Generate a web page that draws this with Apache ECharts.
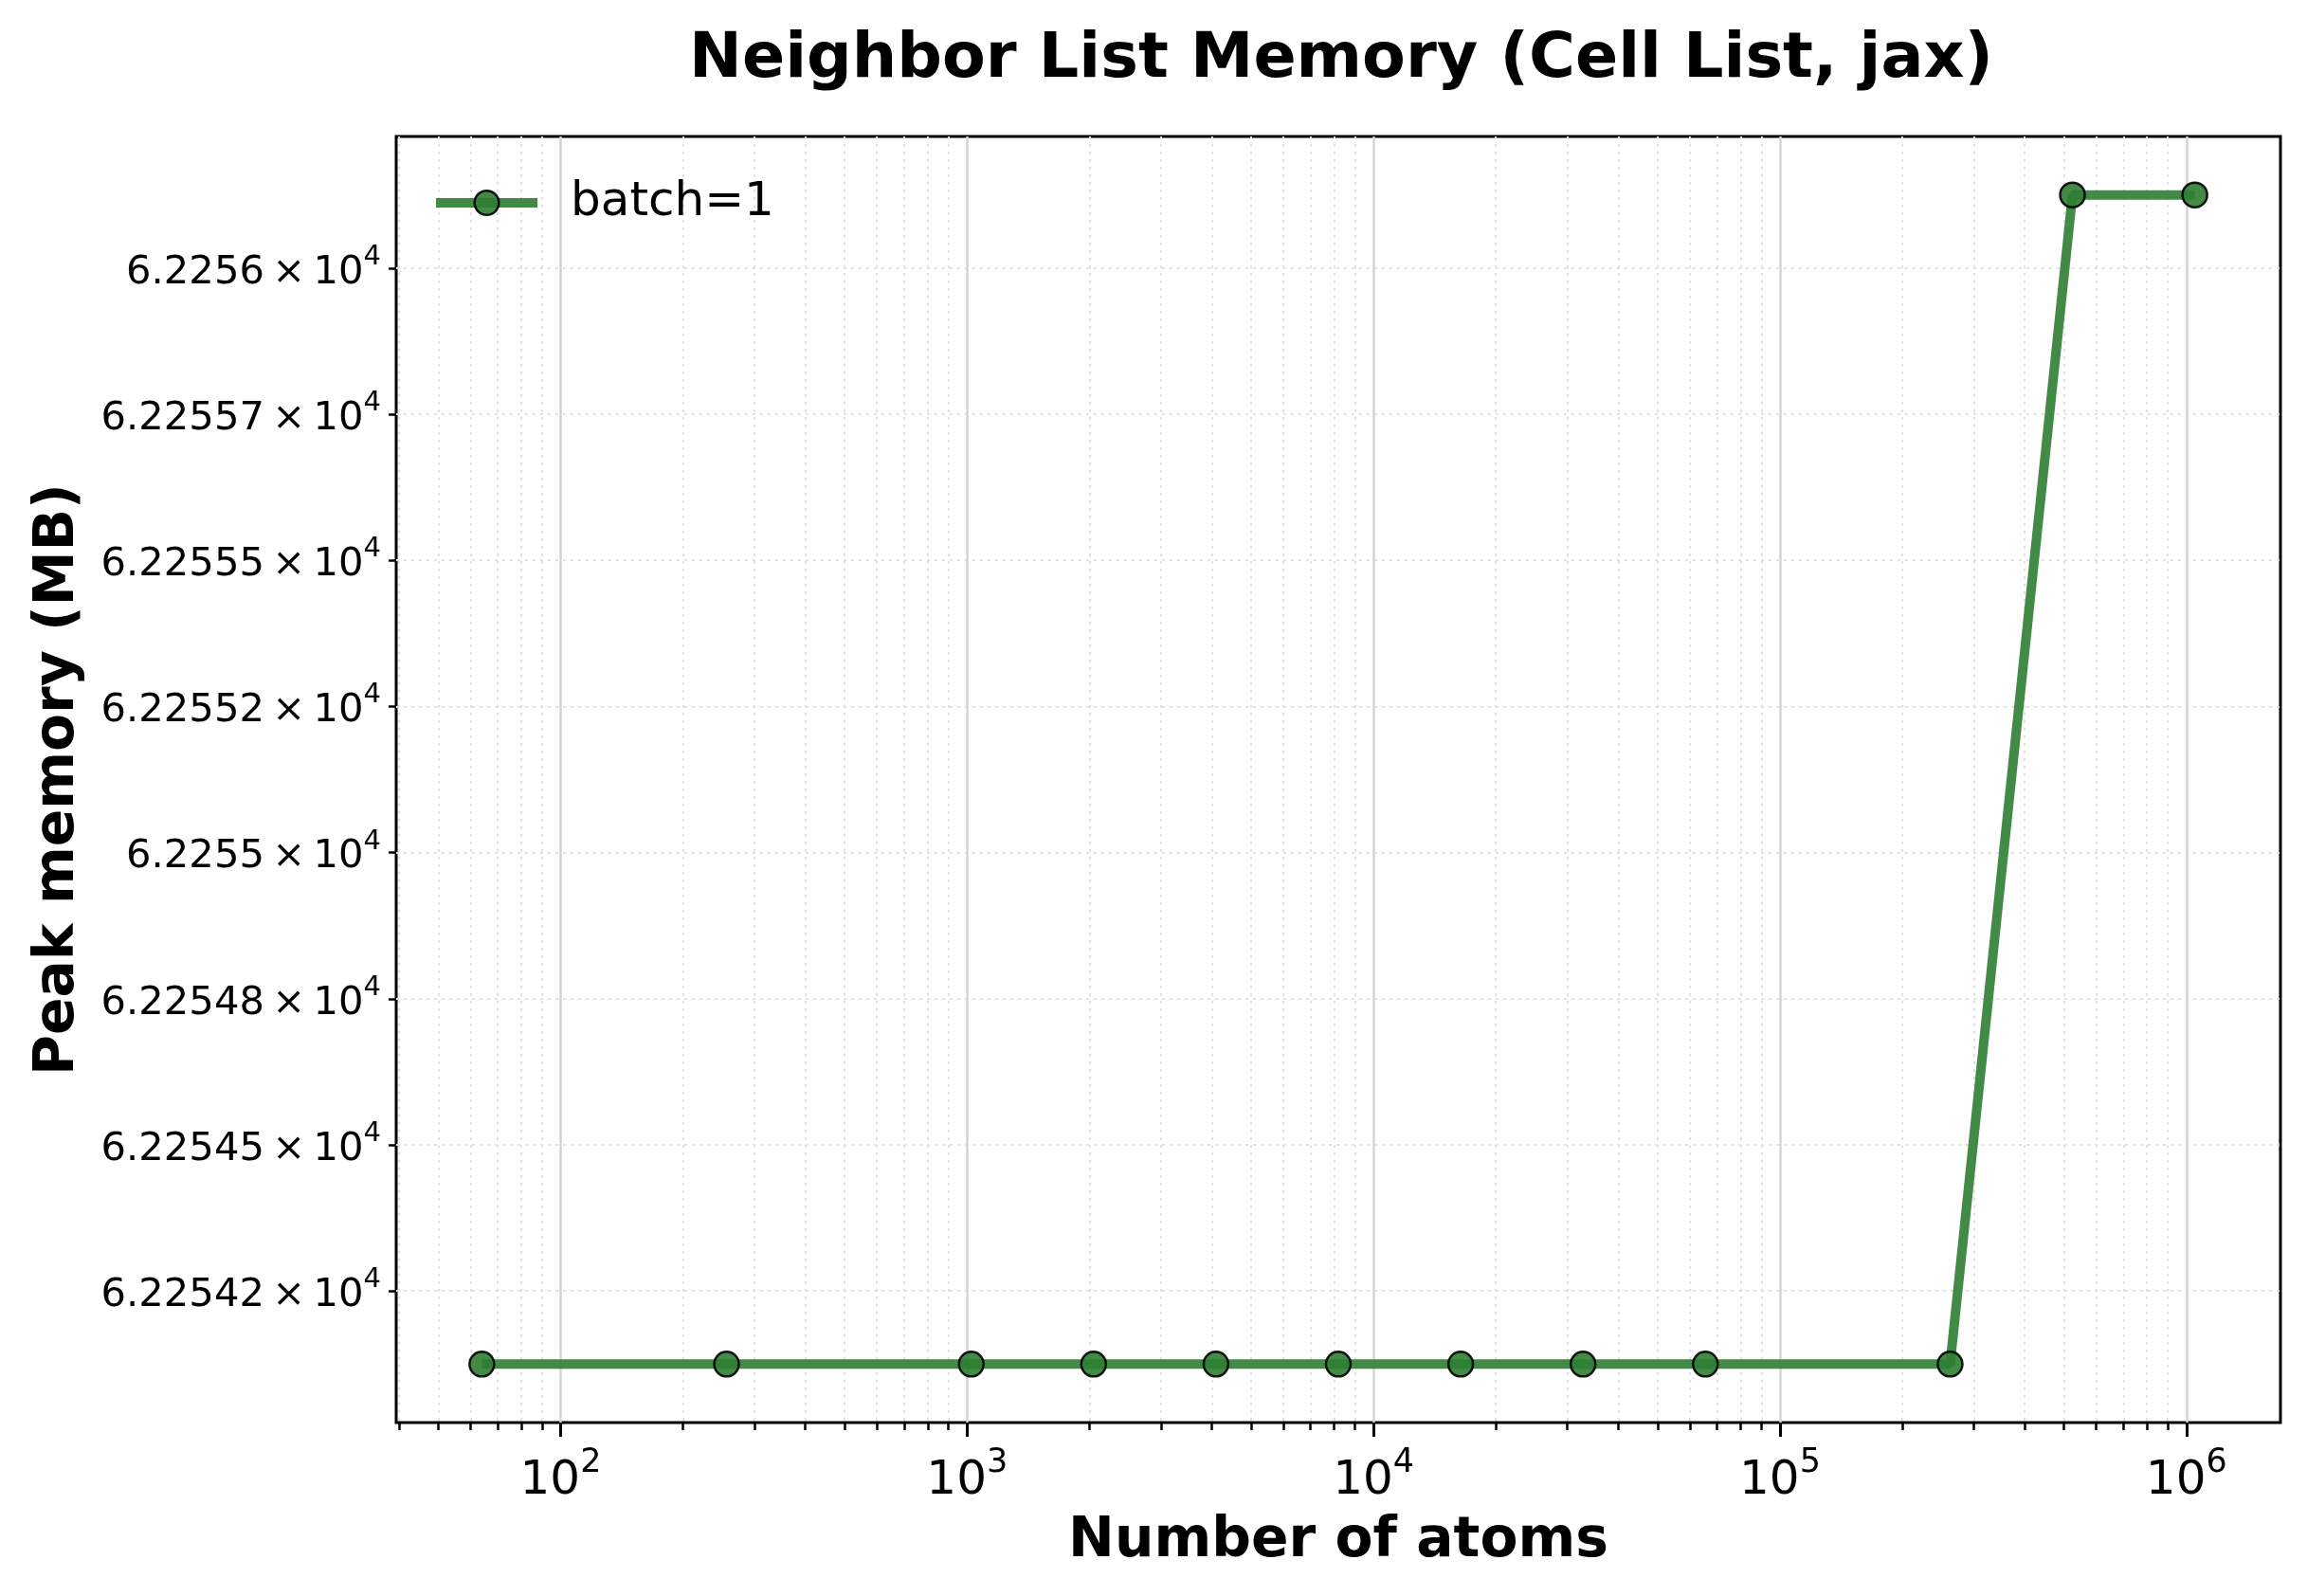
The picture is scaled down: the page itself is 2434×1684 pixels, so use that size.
<!DOCTYPE html>
<html>
<head>
<meta charset="utf-8">
<script src="https://cdn.jsdelivr.net/npm/echarts@6/dist/echarts.min.js"></script>
<style>
html,body{margin:0;padding:0;background:#fff;}
#chart{width:2434px;height:1684px;}
</style>
</head>
<body>
<div id="chart"></div>
<script>
// ---- data ----
const atoms = [64, 256, 1024, 2048, 4096, 8192, 16384, 32768, 65536, 262144, 524288, 1048576];
const peakMemory = [62254.125, 62254.125, 62254.125, 62254.125, 62254.125, 62254.125, 62254.125, 62254.125, 62254.125, 62254.125, 62256.125, 62256.125];
const seriesName = 'batch=1';

const yTickValues = [62254.25, 62254.5, 62254.75, 62255, 62255.25, 62255.5, 62255.75, 62256];
const yTickMantissas = ['6.22542', '6.22545', '6.22548', '6.2255', '6.22552', '6.22555', '6.22557', '6.2256'];
const yTickExponent = '4';

const xMajorTicks = [100, 1000, 10000, 100000, 1000000];
const xMajorExponents = ['2', '3', '4', '5', '6'];
const xMinorTicks = [40, 50, 60, 70, 80, 90,
  200, 300, 400, 500, 600, 700, 800, 900,
  2000, 3000, 4000, 5000, 6000, 7000, 8000, 9000,
  20000, 30000, 40000, 50000, 60000, 70000, 80000, 90000,
  200000, 300000, 400000, 500000, 600000, 700000, 800000, 900000];

// axis limits (5% margins in log space on x, linear on y)
const lx0 = Math.log10(atoms[0]), lx1 = Math.log10(atoms[atoms.length - 1]);
const xMin = Math.pow(10, lx0 - 0.05 * (lx1 - lx0));
const xMax = Math.pow(10, lx1 + 0.05 * (lx1 - lx0));
const yLo = Math.min(...peakMemory), yHi = Math.max(...peakMemory);
const yMin = yLo - 0.05 * (yHi - yLo);
const yMax = yHi + 0.05 * (yHi - yLo);

const FONT = 'DejaVu Sans';
const GREEN = '#2E7D32';

const chart = echarts.init(document.getElementById('chart'), null, {renderer: 'canvas'});

const data = atoms.map((a, i) => [a, peakMemory[i]]);

const option = {
  backgroundColor: '#ffffff',
  animation: false,
  title: {
    text: 'Neighbor List Memory (Cell List, jax)',
    left: 1410,
    textAlign: 'center',
    top: 24,
    textStyle: {fontFamily: FONT, fontWeight: 'bold', fontSize: 66.7, color: '#000', lineHeight: 70}
  },
  legend: {
    left: 450,
    top: 184,
    itemWidth: 107,
    itemHeight: 32,
    data: [seriesName],
    lineStyle: {width: 10, color: GREEN, opacity: 0.9},
    itemStyle: {color: GREEN, borderColor: '#000', borderWidth: 2.5, opacity: 0.9},
    textStyle: {fontFamily: FONT, fontSize: 50, color: '#000', padding: [0, 0, 0, 30]}
  },
  grid: {
    left: 418, right: 28, top: 144, bottom: 183,
    show: true, borderColor: '#000', borderWidth: 3, backgroundColor: 'transparent',
    containLabel: false
  },
  xAxis: [
    {
      type: 'log', logBase: 10, min: xMin, max: xMax,
      position: 'bottom',
      name: 'Number of atoms', nameLocation: 'middle', nameGap: 97,
      nameTextStyle: {fontFamily: FONT, fontWeight: 'bold', fontSize: 58.3, color: '#000'},
      axisLine: {show: false},
      axisTick: {show: true, length: 15, lineStyle: {color: '#000', width: 3}, customValues: xMajorTicks},
      axisLabel: {
        show: true, margin: 25, customValues: xMajorTicks,
        formatter: function (v) {
          const i = xMajorTicks.findIndex(t => Math.abs(Math.log10(t) - Math.log10(v)) < 1e-6);
          return '{b|10}{s|' + (i >= 0 ? xMajorExponents[i] : '') + '}';
        },
        rich: {
          b: {fontFamily: FONT, fontSize: 50, color: '#000', lineHeight: 62, verticalAlign: 'bottom'},
          s: {fontFamily: FONT, fontSize: 35, color: '#000', lineHeight: 35, verticalAlign: 'top'}
        }
      },
      splitLine: {show: true, lineStyle: {color: '#d4d4d4', width: 2.5, type: 'solid'}},
      minorTick: {show: false}
    },
    {
      type: 'log', logBase: 10, min: xMin, max: xMax,
      position: 'bottom',
      axisLine: {show: false},
      axisTick: {show: true, length: 8, lineStyle: {color: '#000', width: 2.5}, customValues: xMinorTicks},
      axisLabel: {show: false, customValues: xMinorTicks},
      splitLine: {show: true, lineStyle: {color: '#e2e2e2', width: 2, type: [3, 5]}}
    }
  ],
  yAxis: {
    type: 'value', min: yMin, max: yMax,
    name: 'Peak memory (MB)', nameLocation: 'middle', nameGap: 327,
    nameTextStyle: {fontFamily: FONT, fontWeight: 'bold', fontSize: 58.3, color: '#000'},
    axisLine: {show: false},
    axisTick: {show: true, length: 8, lineStyle: {color: '#000', width: 2.5}, customValues: yTickValues},
    axisLabel: {
      show: true, margin: 16, customValues: yTickValues,
      formatter: function (v) {
        const i = yTickValues.findIndex(t => Math.abs(t - v) < 1e-6);
        return '{b|' + (i >= 0 ? yTickMantissas[i] : '') + '\u2009×\u200910}{s|' + yTickExponent + '}';
      },
      rich: {
        b: {fontFamily: FONT, fontSize: 41.7, color: '#000', lineHeight: 52, verticalAlign: 'bottom'},
        s: {fontFamily: FONT, fontSize: 29, color: '#000', lineHeight: 29, verticalAlign: 'top'}
      }
    },
    splitLine: {show: true, lineStyle: {color: '#e2e2e2', width: 2, type: [3, 5]}}
  },
  series: [{
    name: seriesName,
    type: 'line',
    xAxisIndex: 0,
    data: data,
    symbol: 'circle',
    symbolSize: 26,
    showAllSymbol: true,
    lineStyle: {color: GREEN, width: 10, opacity: 0.9},
    itemStyle: {color: GREEN, borderColor: '#000', borderWidth: 2.5, opacity: 0.9},
    z: 5
  }]
};

chart.setOption(option);
</script>
</body>
</html>
